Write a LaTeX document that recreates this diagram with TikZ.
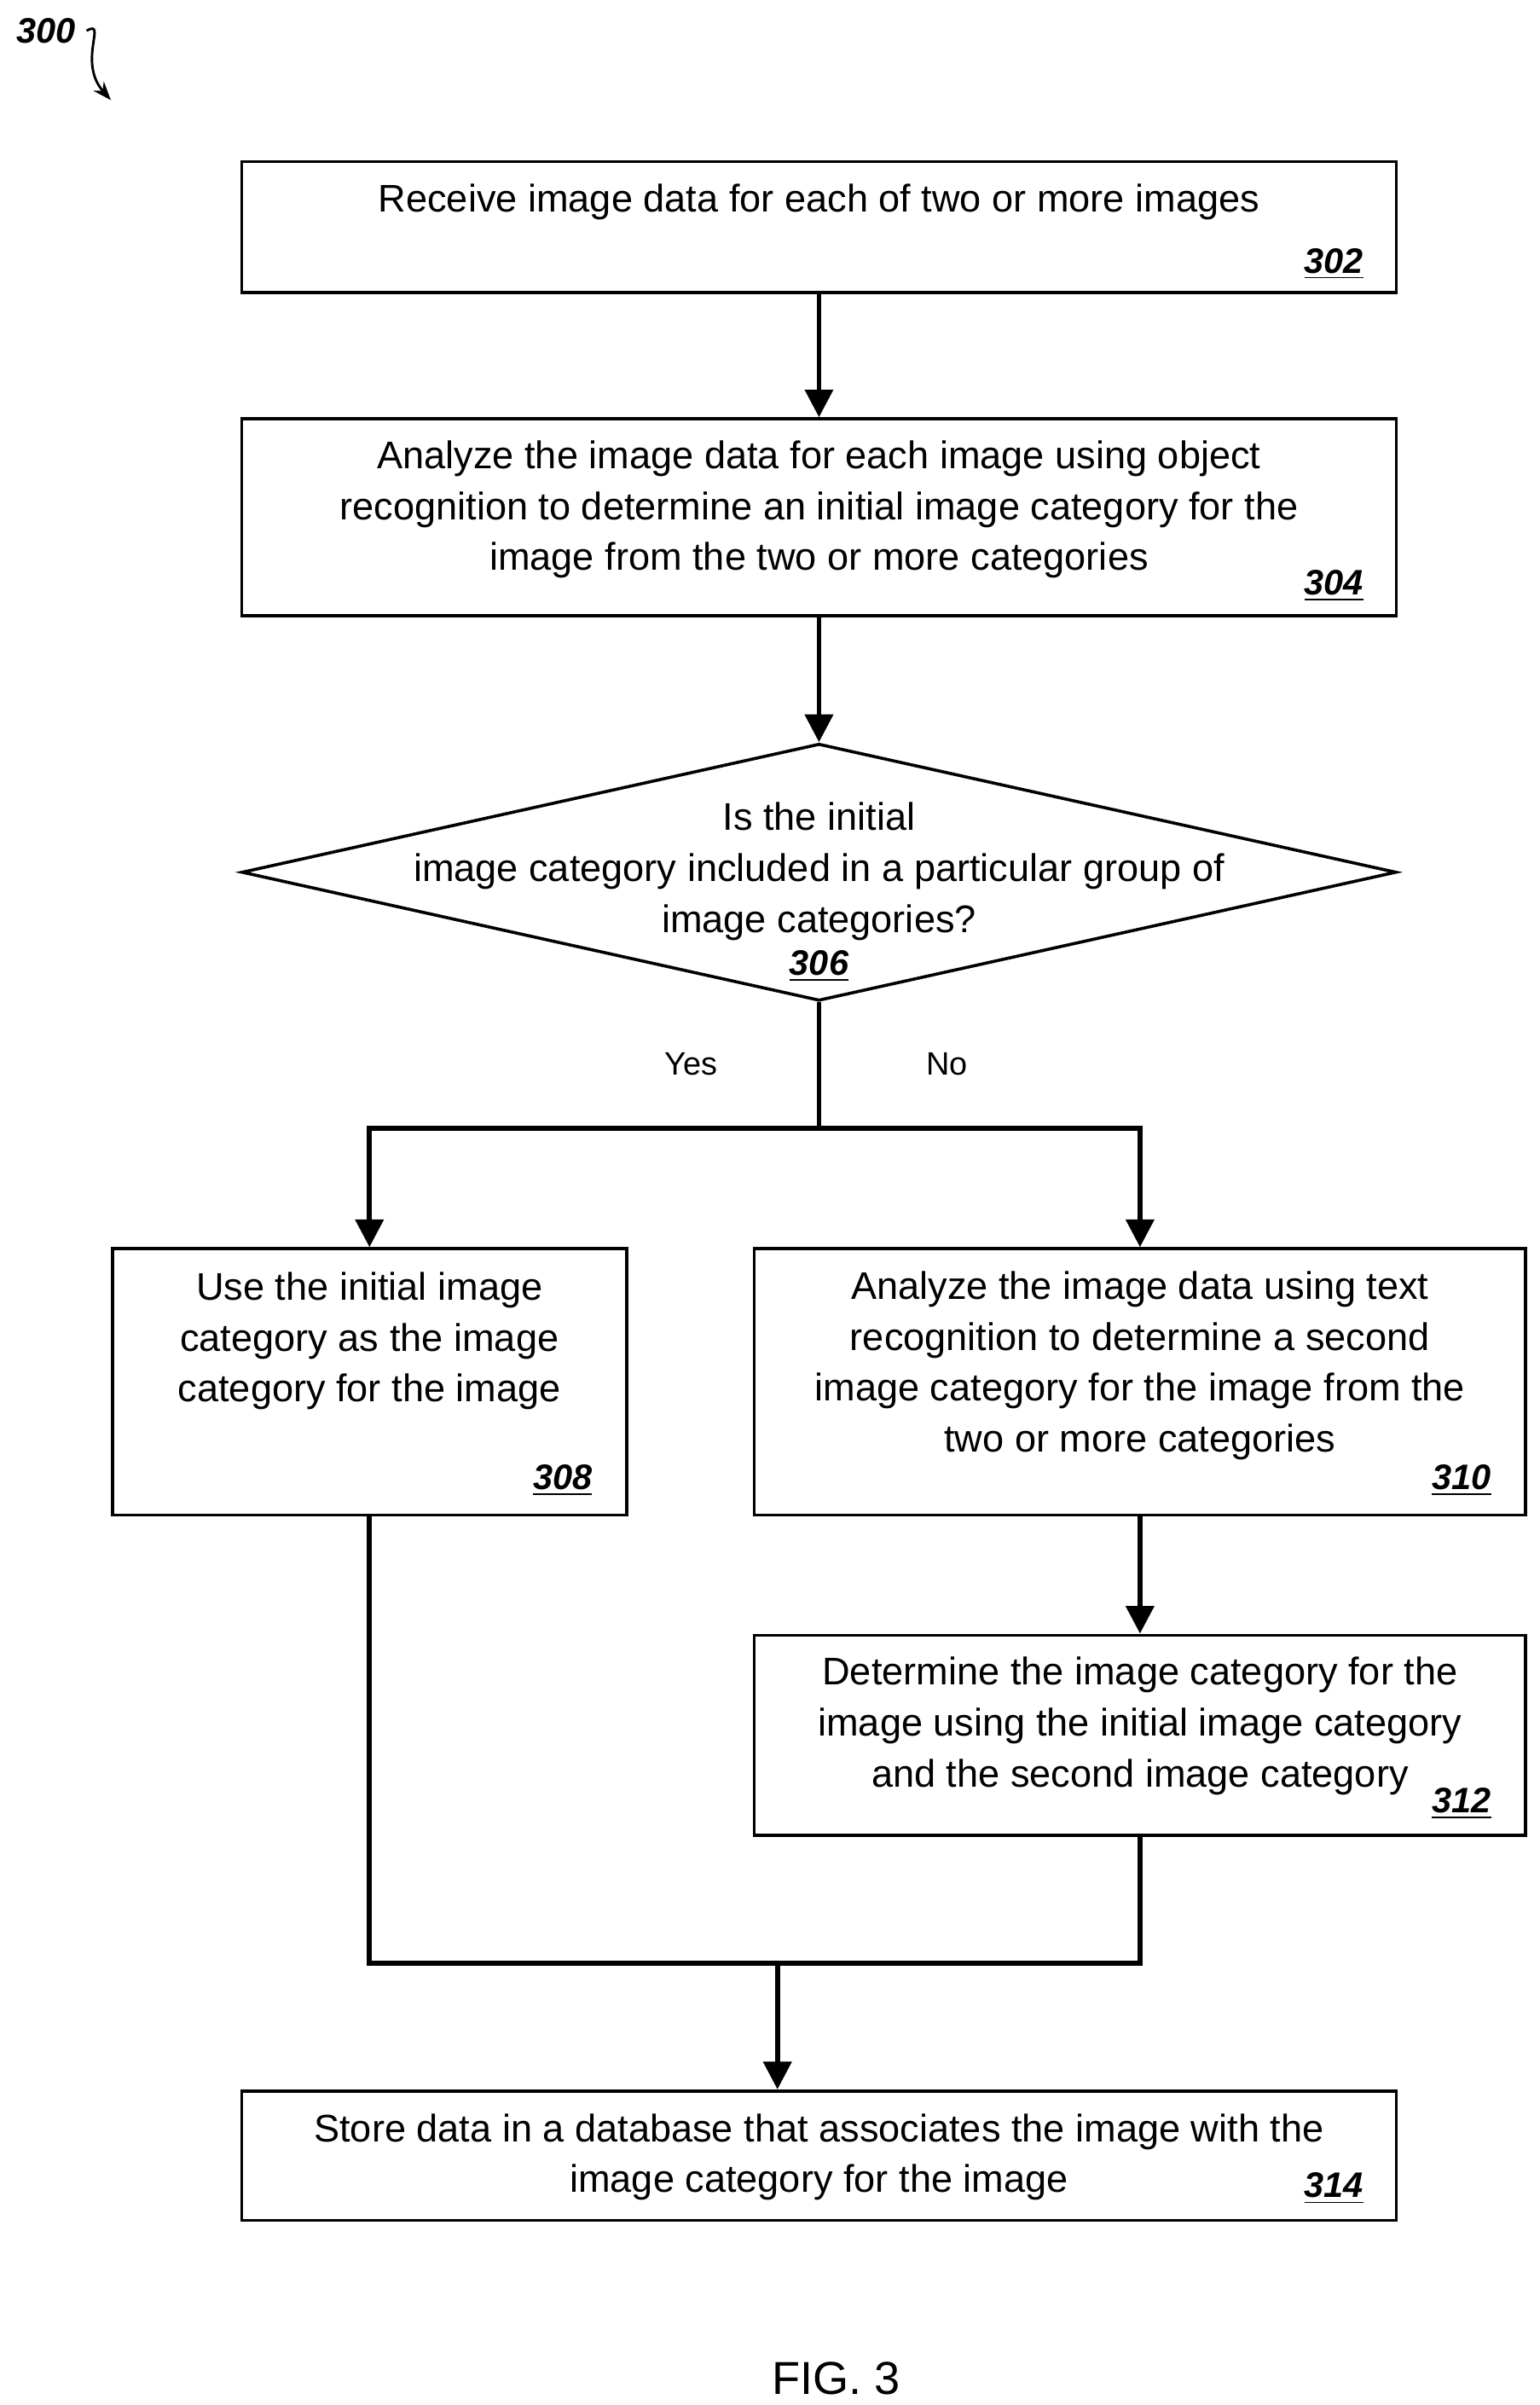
\documentclass[tikz,border=0pt]{standalone}
\usepackage{fontspec}
\setmainfont{Liberation Sans}
\usetikzlibrary{shapes.geometric,arrows.meta}
\begin{document}
\begin{tikzpicture}[
    x=0.5pt, y=-0.5pt,
    every node/.style={font=\fontsize{12.5}{16.5}\selectfont, align=center},
    box/.style={draw=black, line width=1pt, inner sep=0pt},
    num/.style={font=\fontsize{11.5}{13}\selectfont\bfseries\itshape, anchor=south east, inner sep=0pt},
    flow/.style={line width=1.6pt},
    arr/.style={flow, -{Triangle[length=9pt,width=9pt]}}
]
\useasboundingbox (0,0) rectangle (1000,1562);
% boxes
\node[box, minimum width=375pt, minimum height=42.5pt] (s302) at (532,147.5) {};
\node at (532,131) {Receive image data for each of two or more images};
\node[num] (n302) at (886,182) {\underline{302}};
\node[box, minimum width=375pt, minimum height=64pt] (s304) at (532,336) {};
\node at (532,331) {Analyze the image data for each image using object\\recognition to determine an initial image category for the\\image from the two or more categories};
\node[num] (n304) at (886,391) {\underline{304}};
\node[diamond, draw, line width=1pt, aspect=4.5, minimum width=375pt, minimum height=83.5pt, inner sep=0pt] (s306) at (532,566.5) {};
\node at (532,566) {Is the initial\\image category included in a particular group of\\image categories?};
\node[num, anchor=south] (n306) at (532,638) {\underline{306}};
\node[box, minimum width=167pt, minimum height=86.5pt] (s308) at (240,897.5) {};
\node at (240,871) {Use the initial image\\category as the image\\category for the image};
\node[num] (n308) at (385,972) {\underline{308}};
\node[box, minimum width=250.5pt, minimum height=86.5pt] (s310) at (740.5,897.5) {};
\node at (740.5,887) {Analyze the image data using text\\recognition to determine a second\\image category for the image from the\\two or more categories};
\node[num] (n310) at (969,972) {\underline{310}};
\node[box, minimum width=250.5pt, minimum height=65pt] (s312) at (740.5,1127) {};
\node at (740.5,1121) {Determine the image category for the\\image using the initial image category\\and the second image category};
\node[num] (n312) at (969,1182) {\underline{312}};
\node[box, minimum width=375pt, minimum height=42pt] (s314) at (532,1400) {};
\node at (532,1401) {Store data in a database that associates the image with the\\image category for the image};
\node[num] (n314) at (886,1432) {\underline{314}};
\node (yes) at (449,691) {\fontsize{10.5}{12}\selectfont Yes};
\node (no) at (615,691) {\fontsize{10.5}{12}\selectfont No};
\node (fig) at (543,1545) {\fontsize{15}{18}\selectfont FIG. 3};
\node[font=\fontsize{11.5}{13}\selectfont\bfseries\itshape] (ref) at (30,20) {300};
% connectors
\coordinate (split) at (532,733);
\coordinate (merge) at (505,1275);
\draw[arr] (s302) -- (s304);
\draw[arr] (s304) -- (s306);
\draw[flow] (s306.south) -- (split);
\draw[arr] (split) -| (s308.north);
\draw[arr] (split) -| (s310.north);
\draw[arr] (s310) -- (s312);
\draw[flow] (s308.south) |- (merge) -| (s312.south);
\draw[arr] (merge) -- (merge |- s314.north);
\draw[line width=0.8pt, -{Stealth[length=6pt]}] (ref.east) .. controls (70,12) and (50,40) .. (72,65);
\end{tikzpicture}
\end{document}
